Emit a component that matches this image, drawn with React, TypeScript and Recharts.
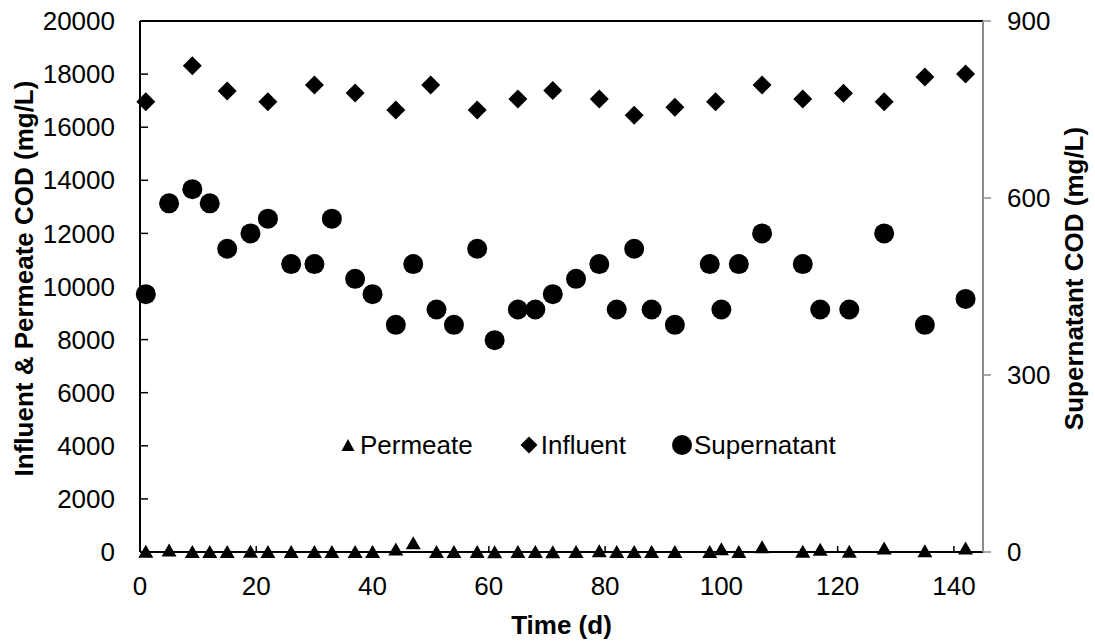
import React from "react";
import {
  ScatterChart,
  Scatter,
  XAxis,
  YAxis,
  ReferenceLine,
} from "recharts";

// sampling days shared by supernatant and permeate
const sampleDays = [
  1, 5, 9, 12, 15, 19, 22, 26, 30, 33, 37, 40, 44, 47, 51, 54, 58, 61, 65, 68,
  71, 75, 79, 82, 85, 88, 92, 98, 100, 103, 107, 114, 117, 122, 128, 135, 142,
];
const supernatantCOD = [
  437, 591, 615, 591, 514, 540, 565, 488, 488, 565, 463, 437, 385, 488, 411,
  385, 514, 359, 411, 411, 437, 463, 488, 411, 514, 411, 385, 488, 411, 488,
  540, 488, 411, 411, 540, 385, 429,
];
const permeateCOD = [
  30, 80, 20, 20, 20, 30, 20, 20, 20, 20, 20, 20, 110, 350, 20, 20, 20, 10, 20,
  20, 10, 20, 50, 20, 20, 20, 20, 20, 120, 20, 200, 30, 100, 30, 150, 50, 150,
];

const influentDays = [
  1, 9, 15, 22, 30, 37, 44, 50, 58, 65, 71, 79, 85, 92, 99, 107, 114, 121, 128,
  135, 142,
];
const influentCOD = [
  16960, 18310, 17360, 16960, 17590, 17290, 16650, 17590, 16650, 17060, 17380,
  17060, 16450, 16750, 16960, 17590, 17060, 17280, 16960, 17890, 18000,
];

const xTicks = [0, 20, 40, 60, 80, 100, 120, 140];
const leftTicks = [0, 2000, 4000, 6000, 8000, 10000, 12000, 14000, 16000, 18000, 20000];
const rightTicks = [0, 300, 600, 900];

const permeateData = sampleDays.map((day, i) => ({ day, cod: permeateCOD[i] }));
const supernatantData = sampleDays.map((day, i) => ({ day, cod: supernatantCOD[i] }));
const influentData = influentDays.map((day, i) => ({ day, cod: influentCOD[i] }));

const FONT = '"Liberation Sans", Arial, sans-serif';
const GREY = "#8c8c8c";

const Triangle = ({ cx, cy }: any) => (
  <polygon
    points={`${cx - 7.5},${cy + 6.5} ${cx + 7.5},${cy + 6.5} ${cx},${cy - 6.5}`}
    fill="#000"
  />
);

const Diamond = ({ cx, cy }: any) => (
  <polygon
    points={`${cx},${cy - 9.5} ${cx + 9.5},${cy} ${cx},${cy + 9.5} ${cx - 9.5},${cy}`}
    fill="#000"
  />
);

const Dot = ({ cx, cy }: any) => <circle cx={cx} cy={cy} r={10} fill="#000" />;

// ticks point into the plot, labels sit outside
const XTick = ({ x, y, payload }: any) => (
  <g>
    <line x1={x} x2={x} y1={y} y2={y - 6} stroke="#000" strokeWidth={1.5} />
    <text x={x} y={y + 34} dy="0.35em" textAnchor="middle" fontSize={26} fontFamily={FONT} fill="#000">
      {payload.value}
    </text>
  </g>
);

const LeftTick = ({ x, y, payload }: any) => (
  <g>
    <line x1={x} x2={x + 8} y1={y} y2={y} stroke="#000" strokeWidth={1.5} />
    <text x={x - 25} y={y} dy="0.35em" textAnchor="end" fontSize={26} fontFamily={FONT} fill="#000">
      {payload.value}
    </text>
  </g>
);

const RightTick = ({ x, y, payload }: any) => (
  <g>
    <line x1={x} x2={x + 8} y1={y} y2={y} stroke={GREY} strokeWidth={1.5} />
    <text x={x + 24} y={y} dy="0.35em" textAnchor="start" fontSize={26} fontFamily={FONT} fill="#000">
      {payload.value}
    </text>
  </g>
);

const titleStyle = { fontSize: 26, fontWeight: 700, fontFamily: FONT, fill: "#000" };

const legendItems = [
  { name: "Permeate", marker: "triangle" },
  { name: "Influent", marker: "diamond" },
  { name: "Supernatant", marker: "circle" },
];

function LegendMarker({ marker }: { marker: string }) {
  return (
    <svg width={24} height={24} style={{ display: "block" }}>
      {marker === "triangle" && <polygon points="5.5,18 18.5,18 12,6" fill="#000" />}
      {marker === "diamond" && <polygon points="12,3.5 20.5,12 12,20.5 3.5,12" fill="#000" />}
      {marker === "circle" && <circle cx={12} cy={12} r={10} fill="#000" />}
    </svg>
  );
}

export default function App() {
  return (
    <div style={{ position: "absolute", left: 0, top: 0, width: 1095, height: 642, background: "#fff" }}>
      <ScatterChart
        width={1095}
        height={642}
        margin={{ top: 21, right: 0, bottom: 0, left: 0 }}
      >
        <XAxis
          type="number"
          dataKey="day"
          domain={[0, 145]}
          ticks={xTicks}
          height={90}
          tickSize={0}
          tickMargin={0}
          tick={<XTick />}
          axisLine={{ stroke: "#000", strokeWidth: 2 }}
          label={{
            content: ({ viewBox }: any) => (
              <text
                x={viewBox.x + viewBox.width / 2}
                y={viewBox.y + 73}
                dy="0.35em"
                textAnchor="middle"
                style={titleStyle}
              >
                Time (d)
              </text>
            ),
          }}
        />
        <YAxis
          yAxisId="left"
          type="number"
          dataKey="cod"
          domain={[0, 20000]}
          ticks={leftTicks}
          width={140}
          tickSize={0}
          tickMargin={0}
          tick={<LeftTick />}
          axisLine={{ stroke: "#000", strokeWidth: 2 }}
          label={{
            content: ({ viewBox }: any) => {
              const cy = viewBox.y + viewBox.height / 2 - 8;
              return (
                <text
                  x={24}
                  y={cy}
                  dy="0.35em"
                  textAnchor="middle"
                  transform={`rotate(-90, 24, ${cy})`}
                  style={titleStyle}
                >
                  Influent &amp; Permeate COD (mg/L)
                </text>
              );
            },
          }}
        />
        <YAxis
          yAxisId="right"
          orientation="right"
          type="number"
          dataKey="cod"
          domain={[0, 900]}
          ticks={rightTicks}
          width={112}
          tickSize={0}
          tickMargin={0}
          tick={<RightTick />}
          axisLine={{ stroke: GREY, strokeWidth: 2 }}
          label={{
            content: ({ viewBox }: any) => {
              const cy = viewBox.y + viewBox.height / 2 - 8;
              const cx = viewBox.x + 91;
              return (
                <text
                  x={cx}
                  y={cy}
                  dy="0.35em"
                  textAnchor="middle"
                  transform={`rotate(-90, ${cx}, ${cy})`}
                  style={titleStyle}
                >
                  Supernatant COD (mg/L)
                </text>
              );
            },
          }}
        />
        <ReferenceLine yAxisId="left" y={20000} stroke="#000" strokeWidth={2} />
        <Scatter
          name="Influent"
          yAxisId="left"
          data={influentData}
          shape={<Diamond />}
          isAnimationActive={false}
        />
        <Scatter
          name="Supernatant"
          yAxisId="right"
          data={supernatantData}
          shape={<Dot />}
          isAnimationActive={false}
        />
        <Scatter
          name="Permeate"
          yAxisId="left"
          data={permeateData}
          shape={<Triangle />}
          isAnimationActive={false}
        />
      </ScatterChart>
      <div
        style={{
          position: "absolute",
          left: 336,
          top: 430,
          display: "flex",
          alignItems: "center",
          fontFamily: FONT,
          fontSize: 26,
          color: "#000",
          lineHeight: "30px",
        }}
      >
        {legendItems.map((item) => (
          <div key={item.name} style={{ display: "flex", alignItems: "center", marginRight: 44 }}>
            <LegendMarker marker={item.marker} />
            <span>{item.name}</span>
          </div>
        ))}
      </div>
    </div>
  );
}
